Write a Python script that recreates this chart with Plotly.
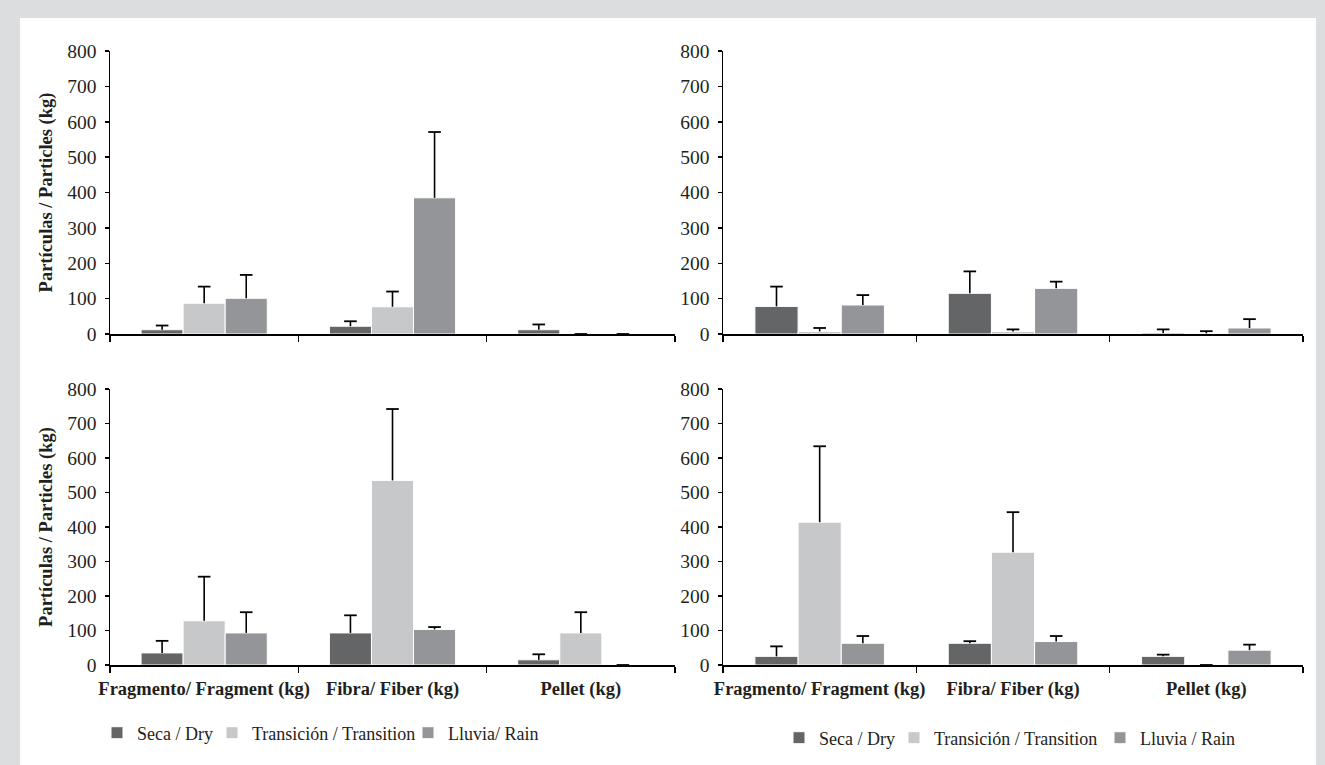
import plotly.graph_objects as go

categories = ["Fragmento/ Fragment (kg)", "Fibra/ Fiber (kg)", "Pellet (kg)"]
series_names_left = ["Seca / Dry", "Transición / Transition", "Lluvia/ Rain"]
series_names_right = ["Seca / Dry", "Transición / Transition", "Lluvia / Rain"]
colors = ["#646567", "#c7c8ca", "#939598"]

# Panel A (top-left)
a_seca = [12, 22, 12]
a_seca_err = [12, 14, 15]
a_trans = [87, 77, 0]
a_trans_err = [47, 43, 0]
a_lluvia = [101, 385, 0]
a_lluvia_err = [66, 186, 0]

# Panel B (top-right)
b_seca = [78, 115, 3]
b_seca_err = [56, 62, 10]
b_trans = [7, 7, 2]
b_trans_err = [10, 6, 6]
b_lluvia = [82, 129, 17]
b_lluvia_err = [28, 19, 25]

# Panel C (bottom-left)
c_seca = [35, 93, 15]
c_seca_err = [35, 51, 16]
c_trans = [128, 535, 93]
c_trans_err = [128, 207, 60]
c_lluvia = [93, 103, 0]
c_lluvia_err = [60, 7, 0]

# Panel D (bottom-right)
d_seca = [25, 63, 25]
d_seca_err = [29, 6, 5]
d_trans = [414, 327, 0]
d_trans_err = [220, 116, 0]
d_lluvia = [63, 68, 43]
d_lluvia_err = [21, 16, 16]

y_ticks = [0, 100, 200, 300, 400, 500, 600, 700, 800]

panels = [
    ("x", "y", [a_seca, a_trans, a_lluvia], [a_seca_err, a_trans_err, a_lluvia_err], None, series_names_left),
    ("x2", "y2", [b_seca, b_trans, b_lluvia], [b_seca_err, b_trans_err, b_lluvia_err], None, series_names_right),
    ("x3", "y3", [c_seca, c_trans, c_lluvia], [c_seca_err, c_trans_err, c_lluvia_err],
     ["legend", "legend2", "legend3"], series_names_left),
    ("x4", "y4", [d_seca, d_trans, d_lluvia], [d_seca_err, d_trans_err, d_lluvia_err],
     ["legend4", "legend5", "legend6"], series_names_right),
]

FONT = "Liberation Serif"
TXT = "#231f20"
W, H = 1325, 765

fig = go.Figure()
for xa, ya, vals, errs, legs, names in panels:
    for i in range(3):
        kw = dict(showlegend=False)
        if legs is not None:
            kw = dict(showlegend=True, legend=legs[i])
        fig.add_trace(go.Bar(
            x=categories, y=vals[i], name=names[i],
            marker=dict(color=colors[i], line=dict(color="#ffffff", width=1)),
            error_y=dict(type="data", symmetric=False, array=errs[i],
                         arrayminus=[0] * len(errs[i]), width=0,
                         thickness=1.6, color="#000000"),
            xaxis=xa, yaxis=ya, hoverinfo="skip", **kw))
    for i in range(3):
        tops = [v + e for v, e in zip(vals[i], errs[i])]
        fig.add_trace(go.Scatter(
            x=categories, y=tops, mode="markers", orientation="v",
            marker=dict(symbol="line-ew", size=9, color="#000000",
                        line=dict(color="#000000", width=1.8)),
            xaxis=xa, yaxis=ya, showlegend=False, hoverinfo="skip",
            cliponaxis=False))

def px_x(a, b):
    return [a / W, b / W]

def px_y(top, bottom):
    return [(H - bottom) / H, (H - top) / H]

xl = px_x(110, 675)
xr = px_x(723, 1303)
yt = px_y(51, 334)
yb = px_y(389, 665)

def xaxis(domain, anchor, labels):
    return dict(domain=domain, anchor=anchor, type="category",
                showline=True, linecolor="#000000", linewidth=2,
                ticks="outside", tickson="boundaries", ticklen=6,
                tickwidth=1.5, tickcolor="#000000", tickangle=0,
                showticklabels=labels, showgrid=False, zeroline=False,
                tickfont=dict(family=FONT, size=18.5, color=TXT,
                              weight="bold"),
                ticklabelstandoff=6, automargin=False, fixedrange=True)

def yaxis(domain, anchor, title):
    d = dict(domain=domain, anchor=anchor, range=[0, 800],
             tickvals=y_ticks, ticktext=[str(t) for t in y_ticks],
             showline=True, linecolor="#000000", linewidth=1.5,
             ticks="outside", ticklen=4, tickwidth=1.5, tickcolor="#000000",
             showgrid=False, zeroline=False,
             tickfont=dict(family=FONT, size=19.5, color=TXT),
             ticklabelstandoff=4, automargin=False, fixedrange=True)
    if title:
        d["title"] = dict(text="Partículas / Particles (kg)",
                          font=dict(family=FONT, size=18.5, color=TXT,
                                    weight="bold"),
                          standoff=10)
    return d

def legend_at(x_px, y_px):
    return dict(orientation="h", x=x_px / W, xanchor="left",
                y=(H - y_px) / H, yanchor="middle",
                font=dict(family=FONT, size=18, color=TXT),
                bgcolor="rgba(0,0,0,0)", borderwidth=0,
                itemclick=False, itemdoubleclick=False)

fig.update_layout(
    width=W, height=H,
    margin=dict(l=0, r=0, t=0, b=0),
    paper_bgcolor="#dcdddf",
    plot_bgcolor="rgba(0,0,0,0)",
    barmode="group", bargap=0.33, bargroupgap=0,
    scattermode="group", scattergap=0.33,
    xaxis=xaxis(xl, "y", False),
    yaxis=yaxis(yt, "x", True),
    xaxis2=xaxis(xr, "y2", False),
    yaxis2=yaxis(yt, "x2", False),
    xaxis3=xaxis(xl, "y3", True),
    yaxis3=yaxis(yb, "x3", True),
    xaxis4=xaxis(xr, "y4", True),
    yaxis4=yaxis(yb, "x4", False),
    legend=legend_at(97, 733),
    legend2=legend_at(212, 733),
    legend3=legend_at(408, 733),
    legend4=legend_at(779, 738),
    legend5=legend_at(894, 738),
    legend6=legend_at(1100, 738),
    shapes=[dict(type="rect", xref="paper", yref="paper",
                 x0=20 / W, x1=1316 / W, y0=0, y1=(H - 18) / H,
                 fillcolor="#ffffff", line=dict(width=0), layer="below")],
)

fig.write_html(
    "out.html",
    config={"displayModeBar": False, "staticPlot": True},
    post_script="document.body.style.margin='0';document.body.style.overflow='hidden';",
)
